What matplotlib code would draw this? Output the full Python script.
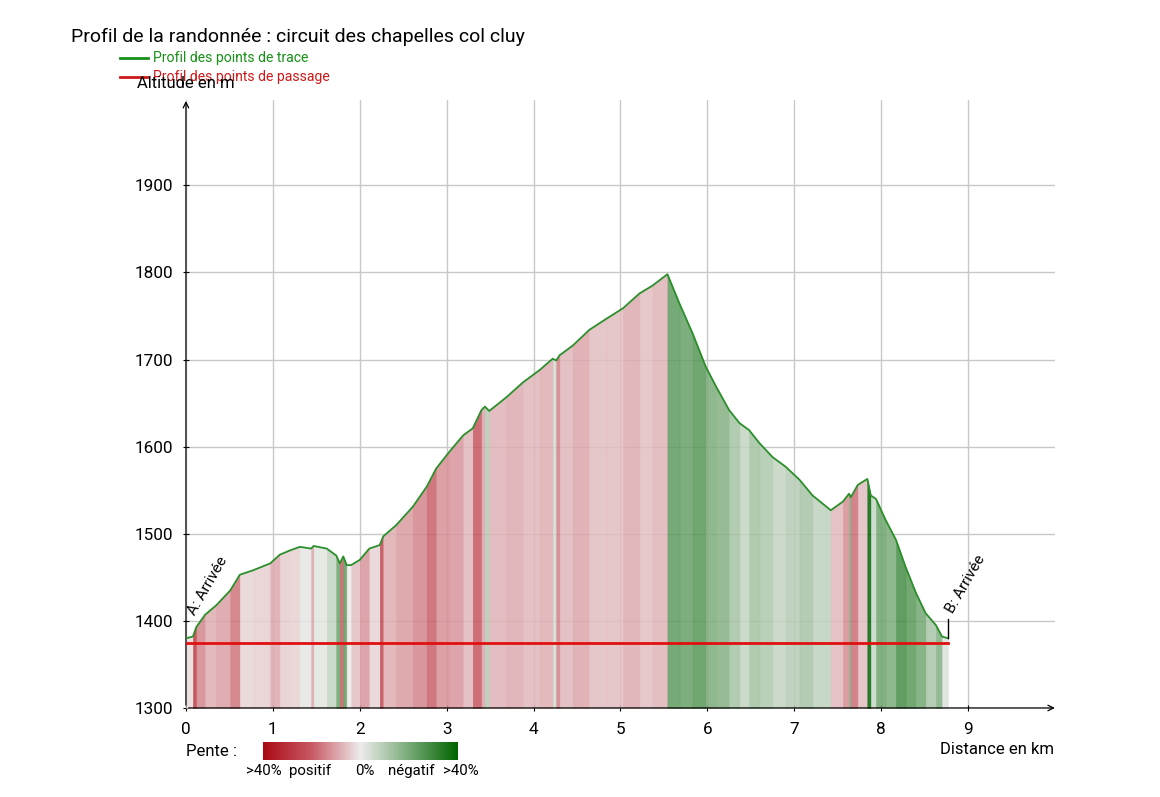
import numpy as np
import matplotlib
matplotlib.use("Agg")
import matplotlib.pyplot as plt
from matplotlib.colors import LinearSegmentedColormap

plt.rcParams['font.family'] = ['Roboto', 'DejaVu Sans']

# profile (km, m)
dist = [0, 0.08, 0.12, 0.22, 0.35, 0.51, 0.62, 0.77, 0.97, 1.08, 1.20, 1.31, 1.44, 1.47,
        1.62, 1.73, 1.77, 1.81, 1.85, 1.90, 2.0, 2.11, 2.23, 2.27, 2.42, 2.61, 2.77, 2.88,
        3.03, 3.19, 3.30, 3.40, 3.44, 3.49, 3.69, 3.88, 4.07, 4.22, 4.26, 4.30, 4.45, 4.64,
        4.84, 5.03, 5.22, 5.37, 5.54, 5.68, 5.83, 5.98, 6.10, 6.25, 6.37, 6.48, 6.60, 6.75,
        6.90, 7.06, 7.21, 7.42, 7.56, 7.63, 7.65, 7.73, 7.84, 7.88, 7.94, 8.05, 8.17, 8.28,
        8.40, 8.51, 8.63, 8.70, 8.77]
alt = [1380, 1382, 1393, 1407, 1418, 1435, 1453, 1458, 1466, 1476, 1481, 1485, 1483, 1486,
       1483, 1475, 1466, 1474, 1464, 1464, 1470, 1483, 1487, 1497, 1510, 1531, 1554, 1575,
       1594, 1613, 1621, 1642, 1646, 1641, 1657, 1674, 1688, 1701, 1699, 1705, 1716, 1734,
       1747, 1759, 1776, 1785, 1798, 1764, 1730, 1692, 1669, 1642, 1627, 1619, 1604, 1588,
       1577, 1562, 1544, 1527, 1537, 1546, 1542, 1556, 1563, 1544, 1540, 1516, 1493, 1462,
       1432, 1409, 1395, 1382, 1380]

# waypoints (passage) profile
pass_dist = [0, 8.77]
pass_alt = [1375, 1375]

xticks = list(range(0, 10))
yticks = list(range(1300, 2000, 100))

cmap = LinearSegmentedColormap.from_list(
    "pente", ["#aa0a14", "#c85a64", "#eeecec", "#78aa78", "#006400"])

fig = plt.figure(figsize=(11.6, 7.97), dpi=100)
ax = fig.add_axes([0.1603, 0.1117, 0.7492, 0.7628])

d = np.array(dist)
a = np.array(alt)
# colour every segment by its slope (percent)
slope = np.diff(a) / (np.diff(d) * 1000) * 100
t = np.clip(0.5 - slope / 80, 0, 1)
for i in range(len(slope)):
    ax.fill_between(d[i:i + 2], 1300, a[i:i + 2], color=cmap(t[i]), lw=0.3, alpha=0.85)

ax.plot(d, a, color="#2a8f2a", lw=1.3, zorder=4)
ax.plot(pass_dist, pass_alt, color="#e01010", lw=2, zorder=5)

ax.set_xlim(0, 10)
ax.set_ylim(1300, 1998)
ax.set_xticks(xticks)
ax.set_yticks(yticks)
ax.tick_params(labelsize=12.3, length=4, direction="inout", width=0.8)
ax.tick_params(axis="y", pad=7)
ax.tick_params(axis="x", pad=8)
ax.grid(color="#c8c8c8", lw=1)
ax.set_axisbelow(True)
for s in ax.spines.values():
    s.set_visible(False)
ax.annotate("", xy=(1.003, 0), xytext=(0, 0), xycoords="axes fraction",
            arrowprops=dict(arrowstyle="->", lw=0.9, color="black"))
ax.annotate("", xy=(0, 1.003), xytext=(0, 0), xycoords="axes fraction",
            arrowprops=dict(arrowstyle="->", lw=0.9, color="black"))

# start / end markers
ax.plot([d[-1], d[-1]], [a[-1], 1402], color="black", lw=1, zorder=6)
ax.text(d[-1] + 0.09, 1406, "B: Arrivée", rotation=60, fontsize=11,
        ha="left", va="bottom", rotation_mode="anchor")
ax.text(0.13, 1404, "A: Arrivée", rotation=60, fontsize=11,
        ha="left", va="bottom", rotation_mode="anchor")

fig.text(0.061, 0.954, "Profil de la randonnée : circuit des chapelles col cluy",
         fontsize=14, va="center")
fig.lines.append(plt.Line2D([0.1035, 0.1275], [0.927, 0.927], color="#169016", lw=2,
                            transform=fig.transFigure))
fig.lines.append(plt.Line2D([0.1035, 0.1275], [0.903, 0.903], color="#d01818", lw=2,
                            transform=fig.transFigure))
fig.text(0.132, 0.927, "Profil des points de trace", color="#169016", fontsize=10.1, va="center")
fig.text(0.132, 0.903, "Profil des points de passage", color="#d01818", fontsize=10.1, va="center")
fig.text(0.118, 0.895, "Altitude en m", fontsize=12, va="center")
fig.text(0.909, 0.060, "Distance en km", fontsize=12, ha="right", va="center")

# slope legend
fig.text(0.160, 0.057, "Pente :", fontsize=12, va="center")
cax = fig.add_axes([0.2267, 0.0464, 0.168, 0.0226])
cax.imshow(np.linspace(0, 1, 256)[None, :], aspect="auto", cmap=cmap)
cax.set_axis_off()
for xp, lab in [(263.5, ">40%"), (310, "positif"), (365, "0%"),
                (411, "négatif"), (460.5, ">40%")]:
    fig.text(xp / 1160, 0.032, lab, fontsize=10.8, ha="center", va="center")

fig.savefig("out.png", dpi=100)
